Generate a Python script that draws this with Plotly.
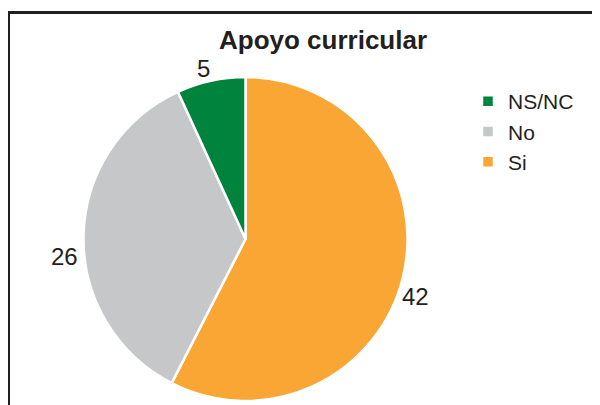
import plotly.graph_objects as go

# slice data, clockwise from 12 o'clock
labels = ["Si", "No", "NS/NC"]
values = [42, 26, 5]
colors = ["#F9A635", "#C6C7C9", "#00843D"]

# where each value label sits in the reference (page pixels)
label_pos = [(415, 296), (64, 256), (203, 68)]

# the page body adds an 8px margin, so the figure is 8px smaller
W, H = 592, 397
OFF = 8


def px(x):
    return (x - OFF) / W


def py(y):
    return 1 - (y - OFF) / H


fig = go.Figure(go.Pie(
    labels=labels,
    values=values,
    sort=False,
    direction="clockwise",
    rotation=0,
    marker=dict(colors=colors, line=dict(color="white", width=2.5)),
    textinfo="none",
    domain=dict(x=[px(83), px(408)], y=[py(401), py(77)]),
))

for v, (lx, ly) in zip(values, label_pos):
    fig.add_annotation(
        x=px(lx), y=py(ly), xref="paper", yref="paper",
        text=str(v), showarrow=False,
        xanchor="center", yanchor="middle",
        font=dict(size=24, color="#231F20"),
    )

fig.update_layout(
    width=W,
    height=H,
    margin=dict(l=0, r=0, t=0, b=0),
    paper_bgcolor="white",
    font=dict(family="Liberation Sans, Arial, sans-serif", color="#231F20"),
    title=dict(
        text="<b>Apoyo curricular</b>",
        x=px(323), xanchor="center",
        y=py(40), yanchor="middle",
        font=dict(size=26, color="#231F20"),
    ),
    legend=dict(
        traceorder="reversed",
        x=px(468), xanchor="left",
        y=py(81), yanchor="top",
        font=dict(size=21),
        itemwidth=30,
        tracegroupgap=0,
    ),
    shapes=[
        dict(type="line", xref="paper", yref="paper",
             x0=px(8.5), x1=px(8.5), y0=0, y1=py(12.5),
             line=dict(color="#231F20", width=3)),
        dict(type="line", xref="paper", yref="paper",
             x0=px(7), x1=1, y0=py(12.5), y1=py(12.5),
             line=dict(color="#231F20", width=3)),
    ],
)

fig.write_html("out.html")
